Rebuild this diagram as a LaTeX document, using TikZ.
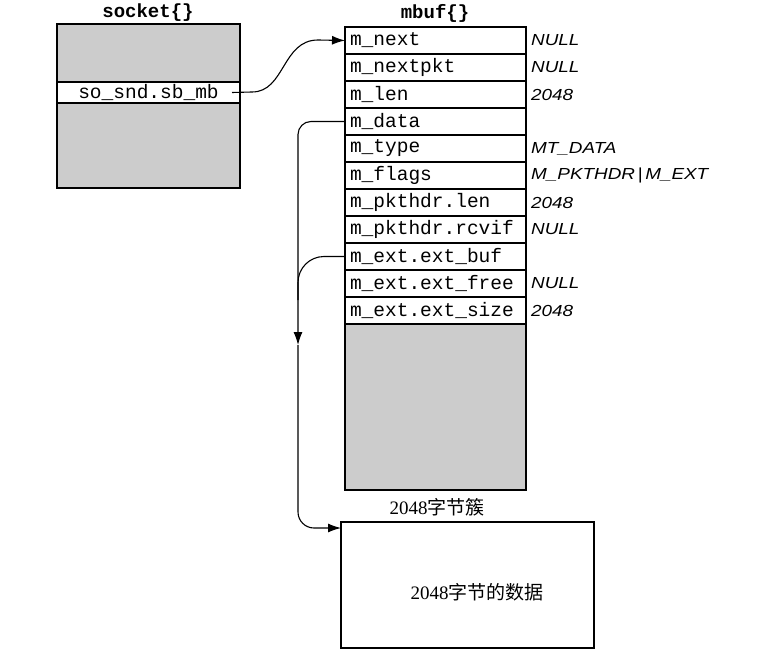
\documentclass[tikz,border=0pt]{standalone}
\usepackage{fontspec}
\setmainfont{Liberation Serif}
\setmonofont{Liberation Mono}
\newfontfamily\cjk{Noto Sans CJK SC}
\newfontfamily\valfont[FakeStretch=1.18]{Liberation Sans}
\usetikzlibrary{arrows.meta}
\definecolor{boxgray}{gray}{0.8}
\begin{document}
\begin{tikzpicture}[x=1pt,y=-1pt,
  box/.style={draw, line width=1.1pt, inner sep=0pt, outer sep=0pt},
  grayblk/.style={box, fill=boxgray},
  row/.style={box, fill=white, minimum width=181pt, minimum height=27pt, text width=171pt, inner xsep=5pt, align=left, font=\ttfamily\fontsize{19.5}{20}\selectfont, anchor=north west},
  val/.style={anchor=west, inner sep=0pt, font=\valfont\itshape\fontsize{16}{18}\selectfont},
  title/.style={inner sep=0pt, font=\ttfamily\bfseries\fontsize{19}{20}\selectfont},
  conn/.style={line width=1.1pt},
  tip/.style={-{Latex[length=13pt,width=9pt]}}
]
\useasboundingbox (0,0) rectangle (762,660);
% socket
\node[title] (socktitle) at (148,13) {socket\{\}};
\node[grayblk, minimum width=183pt, minimum height=58pt, anchor=north west] (socktop) at (57,24) {};
\node[box, fill=white, minimum width=183pt, minimum height=21pt, anchor=north west, font=\ttfamily\fontsize{19.5}{20}\selectfont] (sock) at (57,82) {so\_snd.sb\_mb};
\node[grayblk, minimum width=183pt, minimum height=85pt, anchor=north west] (sockbot) at (57,103) {};
% mbuf
\node[title] (mbuftitle) at (435,13) {mbuf\{\}};
\node[row] (r1) at (345,27) {m\_next};
\node[row] (r2) at (345,54) {m\_nextpkt};
\node[row] (r3) at (345,81) {m\_len};
\node[row] (r4) at (345,108) {m\_data};
\node[row] (r5) at (345,135) {m\_type};
\node[row] (r6) at (345,162) {m\_flags};
\node[row] (r7) at (345,189) {m\_pkthdr.len};
\node[row] (r8) at (345,216) {m\_pkthdr.rcvif};
\node[row] (r9) at (345,243) {m\_ext.ext\_buf};
\node[row] (r10) at (345,270) {m\_ext.ext\_free};
\node[row] (r11) at (345,297) {m\_ext.ext\_size};
\node[grayblk, minimum width=181pt, minimum height=166pt, anchor=north west] (cluster) at (345,324) {};
% values
\node[val] (v1) at ([xshift=5pt]r1.east) {NULL};
\node[val] (v2) at ([xshift=5pt]r2.east) {NULL};
\node[val] (v3) at ([xshift=5pt]r3.east) {2048};
\node[val] (v5) at ([xshift=5pt]r5.east) {MT\_DATA};
\node[val] (v6) at ([xshift=5pt]r6.east) {M\_PKTHDR\,|\,M\_EXT};
\node[val] (v7) at ([xshift=5pt]r7.east) {2048};
\node[val] (v8) at ([xshift=5pt]r8.east) {NULL};
\node[val] (v10) at ([xshift=5pt]r10.east) {NULL};
\node[val] (v11) at ([xshift=5pt]r11.east) {2048};
% cluster label and data box
\node[inner sep=0pt, font=\fontsize{19}{20}\selectfont] (clabel) at (437,507) {2048{\cjk 字节簇}};
\node[box, line width=1.2pt, minimum width=253pt, minimum height=126pt, anchor=north west] (data) at (341,522) {};
\node[inner sep=0pt, font=\fontsize{19}{20}\selectfont] (dlabel) at (477,592) {2048{\cjk 字节的数据}};
% connectors
\coordinate (mid) at (298,345);
\coordinate (join) at (298,300);
\draw[conn, tip] ([xshift=-8pt]sock.east) -- (252,92) .. controls (285,92) and (282,40) .. (318,40) -- (r1.west);
\draw[conn, tip, rounded corners=13pt] (r4.west) -| (mid);
\draw[conn, tip, rounded corners=16pt] (mid) |- ([yshift=-6pt]data.north west);
\draw[conn, rounded corners=26pt] (r9.west) -| (join);
\end{tikzpicture}
\end{document}
